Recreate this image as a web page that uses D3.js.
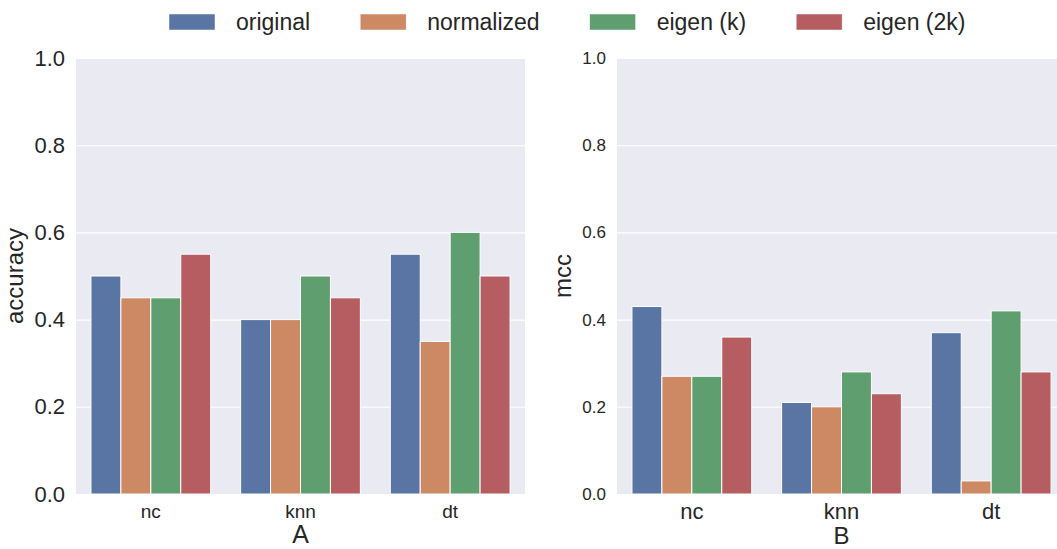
<!DOCTYPE html>
<html>
<head>
<meta charset="utf-8">
<script src="https://cdn.jsdelivr.net/npm/d3@7"></script>
<style>
  html, body { margin: 0; padding: 0; background: #ffffff; }
  svg { display: block; font-family: "Liberation Sans", Arial, sans-serif; }
</style>
</head>
<body>
<svg id="chart" width="1057" height="549"></svg>
<script>
// Classifiers on the x axis and the feature variants shown as grouped bars
const categories = ["nc", "knn", "dt"];
const methods = ["original", "normalized", "eigen (k)", "eigen (2k)"];
const colors = ["#5975a4", "#cc8963", "#5f9e6e", "#b55d60"];

// Panel A: accuracy per classifier
const accuracyOriginal   = [0.50, 0.40, 0.55];
const accuracyNormalized = [0.45, 0.40, 0.35];
const accuracyEigenK     = [0.45, 0.50, 0.60];
const accuracyEigen2K    = [0.55, 0.45, 0.50];

// Panel B: Matthews correlation coefficient per classifier
const mccOriginal   = [0.43, 0.21, 0.37];
const mccNormalized = [0.27, 0.20, 0.03];
const mccEigenK     = [0.27, 0.28, 0.42];
const mccEigen2K    = [0.36, 0.23, 0.28];

const yTicks = [0.0, 0.2, 0.4, 0.6, 0.8, 1.0];

const textColor = "#262626";
const svg = d3.select("#chart");

const plotW = 449, plotH = 436, plotTop = 58;

function panel(opts) {
  const g = svg.append("g").attr("transform", `translate(${opts.left},${plotTop})`);
  const series = [opts.s0, opts.s1, opts.s2, opts.s3];

  const y = d3.scaleLinear().domain([0, 1]).range([plotH, 0]);
  const x0 = d3.scaleBand().domain(categories).range([0, plotW]).padding(0);
  const bw = x0.bandwidth();
  const x1 = d3.scaleBand().domain(methods).range([0.1 * bw, 0.9 * bw]).padding(0);

  // background
  g.append("rect").attr("width", plotW).attr("height", plotH).attr("fill", "#eaeaf2");

  // horizontal grid + tick labels
  const yAxis = g.append("g")
    .call(d3.axisLeft(y).tickValues(yTicks).tickFormat(d3.format(".1f"))
      .tickSize(-plotW).tickPadding(11));
  yAxis.select(".domain").remove();
  yAxis.selectAll(".tick line").attr("stroke", "#ffffff").attr("stroke-width", 1.1);
  yAxis.selectAll(".tick text")
    .attr("fill", textColor)
    .attr("font-size", opts.yTickSize)
    .attr("font-family", "Liberation Sans, Arial, sans-serif");

  // bars
  const rows = [];
  categories.forEach((c, ci) => {
    methods.forEach((m, mi) => rows.push({ c, m, mi, v: series[mi][ci] }));
  });
  g.append("g").selectAll("rect").data(rows).join("rect")
    .attr("x", d => x0(d.c) + x1(d.m))
    .attr("width", x1.bandwidth())
    .attr("y", d => y(d.v))
    .attr("height", d => plotH - y(d.v))
    .attr("fill", d => colors[d.mi])
    .attr("stroke", "#ffffff")
    .attr("stroke-width", 1);

  // category axis
  const xAxis = g.append("g").attr("transform", `translate(0,${plotH})`)
    .call(d3.axisBottom(x0).tickSize(0).tickPadding(opts.xTickPad));
  xAxis.select(".domain").remove();
  xAxis.selectAll(".tick text")
    .attr("fill", textColor)
    .attr("font-size", opts.xTickSize)
    .attr("font-family", "Liberation Sans, Arial, sans-serif");

  // axis titles
  g.append("text")
    .attr("x", plotW / 2).attr("y", plotH + opts.xLabelOffset)
    .attr("text-anchor", "middle")
    .attr("fill", textColor).attr("font-size", opts.xLabelSize)
    .text(opts.xLabel);

  g.append("text")
    .attr("transform", `translate(${opts.yLabelX},${plotH / 2}) rotate(-90)`)
    .attr("text-anchor", "middle")
    .attr("fill", textColor).attr("font-size", 24)
    .text(opts.yLabel);
}

panel({
  left: 76, s0: accuracyOriginal, s1: accuracyNormalized, s2: accuracyEigenK, s3: accuracyEigen2K,
  yTickSize: 22, xTickSize: 19, xTickPad: 11, xLabel: "A", xLabelSize: 25, xLabelOffset: 49,
  yLabel: "accuracy", yLabelX: -53
});
panel({
  left: 617, s0: mccOriginal, s1: mccNormalized, s2: mccEigenK, s3: mccEigen2K,
  yTickSize: 17, xTickSize: 22, xTickPad: 9, xLabel: "B", xLabelSize: 24, xLabelOffset: 49.5,
  yLabel: "mcc", yLabelX: -46
});

// legend across the top
const legend = svg.append("g");
let lx = 169;
methods.forEach((m, i) => {
  legend.append("rect")
    .attr("x", lx).attr("y", 14).attr("width", 46).attr("height", 16)
    .attr("fill", colors[i]).attr("stroke", "#ffffff").attr("stroke-width", 0.5);
  const t = legend.append("text")
    .attr("x", lx + 67).attr("y", 30)
    .attr("fill", textColor).attr("font-size", 23)
    .text(m);
  lx = lx + 67 + t.node().getComputedTextLength() + 50;
});
</script>
</body>
</html>
